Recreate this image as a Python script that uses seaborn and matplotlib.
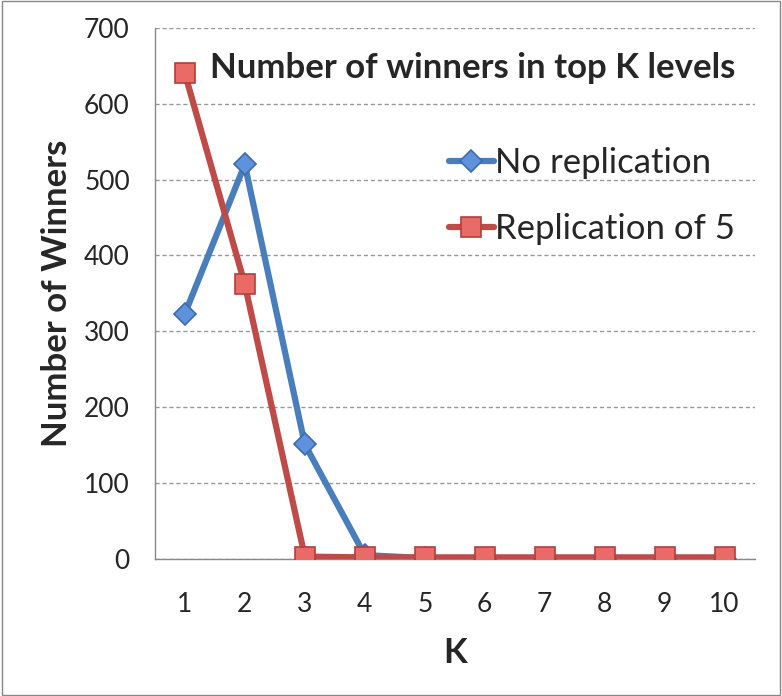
import matplotlib
matplotlib.use('Agg')
import matplotlib.pyplot as plt
import pandas as pd
import seaborn as sns

# Data
k_levels = [1, 2, 3, 4, 5, 6, 7, 8, 9, 10]
no_replication = [323, 520, 151, 5, 1, 0, 0, 0, 0, 0]
replication_5 = [640, 362, 3, 2, 2, 2, 2, 2, 2, 2]
y_ticks = [0, 100, 200, 300, 400, 500, 600, 700]

df = pd.DataFrame({
    'K': k_levels * 2,
    'Winners': no_replication + replication_5,
    'Series': ['No replication'] * 10 + ['Replication of 5'] * 10,
})

sns.set_style('white')
plt.rcParams['font.family'] = ['Lato', 'DejaVu Sans']

fig = plt.figure(figsize=(7.82, 6.96), dpi=100)
ax = fig.add_axes([0.198, 0.197, 0.767, 0.763])

# Draw lines
styles = {
    'No replication': dict(color='#4a7ebb', marker='D', markersize=11,
                           markerfacecolor='#5e92dc', markeredgecolor='#3c6cae', zorder=3),
    'Replication of 5': dict(color='#be4b48', marker='s', markersize=15,
                             markerfacecolor='#ea6a67', markeredgecolor='#b03f3c', zorder=4),
}
for name, st in styles.items():
    sub = df[df['Series'] == name]
    sns.lineplot(data=sub, x='K', y='Winners', ax=ax, label=name, linewidth=4.5,
                 markeredgewidth=1.2, **st)

ax.set_xlim(0.5, 10.5)
ax.set_ylim(0, 700)
ax.set_yticks(y_ticks)
ax.set_xticks(k_levels)
ax.set_xticks([x + 0.5 for x in range(0, 11)], minor=True)
ax.tick_params(axis='x', which='major', length=0, pad=24, labelsize=19)
ax.tick_params(axis='x', which='minor', length=7, color='#888888', direction='out')
ax.tick_params(axis='y', which='major', length=8, color='#888888', direction='out', labelsize=19, pad=10)
ax.yaxis.grid(True, linestyle=(0, (3, 2)), color='#999999', linewidth=1)
ax.set_axisbelow(True)

for side in ['top', 'right']:
    ax.spines[side].set_visible(False)
for side in ['left', 'bottom']:
    ax.spines[side].set_color('#888888')
    ax.spines[side].set_linewidth(1)

ax.set_xlabel('K', fontsize=25, fontweight='bold', labelpad=14)
ax.set_ylabel('Number of Winners', fontsize=25, fontweight='bold', labelpad=8)

ax.text(0.53, 0.925, 'Number of winners in top K levels', transform=ax.transAxes,
        ha='center', va='center', fontsize=25, fontweight='bold')

ax.legend(loc='upper right', bbox_to_anchor=(1.02, 0.835), frameon=False, fontsize=25,
          handlelength=1.3, handletextpad=0.05, labelspacing=1.0)

# Outer border like the reference
fig.patches.append(plt.Rectangle((0.002, 0.002), 0.996, 0.996, transform=fig.transFigure,
                                 fill=False, edgecolor='#888888', linewidth=1))

fig.savefig('out.png', dpi=100)
